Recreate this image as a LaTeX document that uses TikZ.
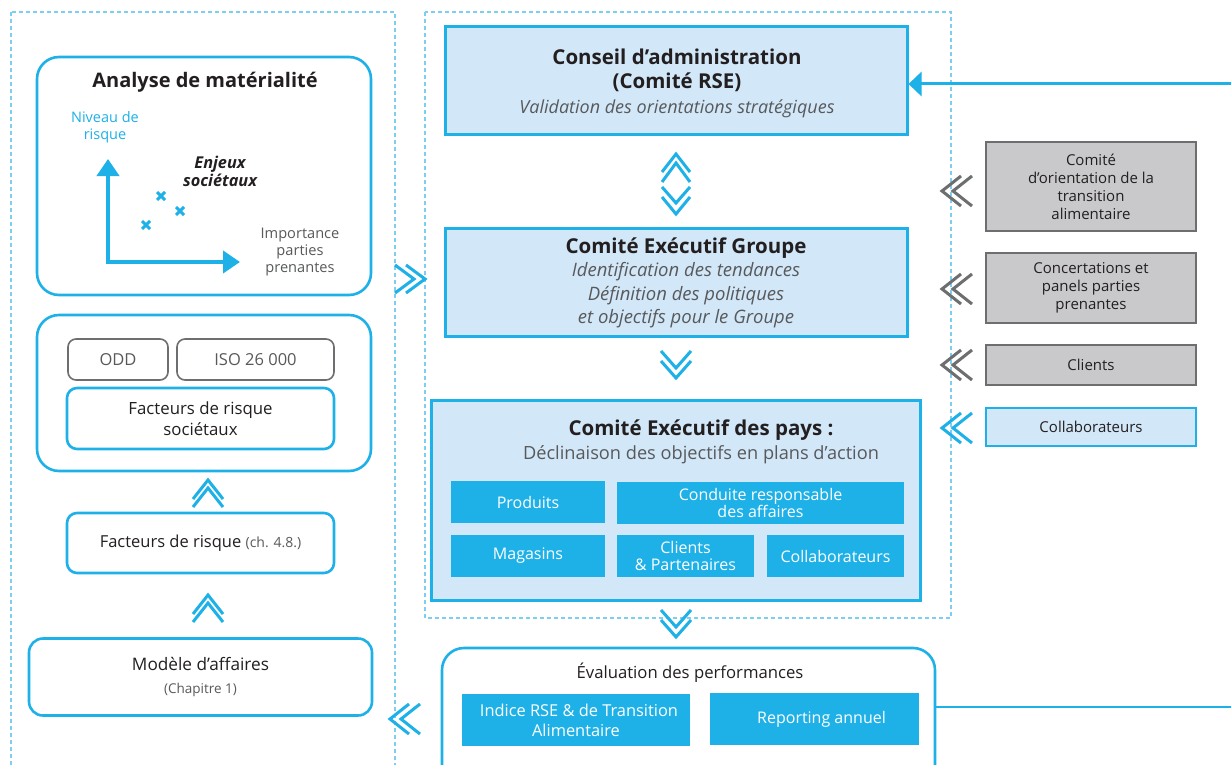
\documentclass[tikz,border=0pt]{standalone}
\usepackage{fontspec}
\setmainfont{Open Sans}
\usetikzlibrary{arrows.meta}
\definecolor{cblue}{HTML}{1EB1E8}
\definecolor{lblue}{HTML}{D2E7F8}
\definecolor{gfill}{HTML}{C9C9CB}
\definecolor{gline}{HTML}{6D6E70}
\definecolor{dtext}{HTML}{231F20}
\definecolor{mtext}{HTML}{58595B}
\definecolor{dashc}{HTML}{7FCDEF}
\tikzset{
 bigr/.style={draw=cblue, line width=2.6pt, rounded corners=22pt, inner sep=0pt},
 smr/.style={draw=cblue, line width=2.6pt, rounded corners=10pt, inner sep=0pt, align=center, text=dtext},
 grr/.style={draw=gline, line width=1.6pt, rounded corners=8pt, inner sep=0pt, align=center, text=mtext, font=\fontsize{16.5}{19}\selectfont},
 sqb/.style={draw=cblue, fill=lblue, line width=3pt, inner sep=0pt, align=center, text=dtext},
 fb/.style={fill=cblue, inner sep=0pt, align=center, text=white, font=\fontsize{16}{16.5}\selectfont},
 gb/.style={draw=gline, fill=gfill, line width=1.8pt, inner sep=0pt, align=center, text=dtext, font=\fontsize{15}{18}\selectfont, minimum width=210pt},
 dsh/.style={draw=dashc, line width=1.4pt, dash pattern=on 4pt off 3pt},
 txt/.style={inner sep=0pt, align=center},
 pics/chevL/.style={code={\draw[line width=3pt, miter limit=10] (19,-15)--(0,0)--(19,15); \draw[line width=3pt, miter limit=10] (30,-15)--(11,0)--(30,15);}},
 pics/chevR/.style={code={\draw[line width=3pt, miter limit=10] (-19,-14)--(0,0)--(-19,14); \draw[line width=3pt, miter limit=10] (-30,-14)--(-11,0)--(-30,14);}},
 pics/chevD/.style={code={\draw[line width=3pt, miter limit=10] (-15,0)--(0,17)--(15,0); \draw[line width=3pt, miter limit=10] (-15,10)--(0,27)--(15,10);}},
 pics/chevU/.style={code={\draw[line width=3pt, miter limit=10] (-15,0)--(0,-19)--(15,0); \draw[line width=3pt, miter limit=10] (-15,-8)--(0,-27)--(15,-8);}},
}
\begin{document}
\begin{tikzpicture}[x=1pt,y=-1pt]
\useasboundingbox (0,0) rectangle (1231,765);
\fill[white] (0,0) rectangle (1231,765);
\clip (0,0) rectangle (1231,765);

% dashed containers
\draw[dsh] (11,12) rectangle (395,775);
\draw[dsh] (425,12) rectangle (951,618);

% ---------- left column ----------
\node[bigr, minimum width=334pt, minimum height=238pt] (mat) at (204,176) {};
\node[txt, text=dtext, font=\bfseries\fontsize{20}{23}\selectfont] (matt) at (205,82) {Analyse de matérialité};
\node[txt, text=cblue, font=\fontsize{14.5}{17}\selectfont] (niv) at (105,127) {Niveau de\\risque};
\node[txt, text=dtext, font=\bfseries\itshape\fontsize{16.3}{18}\selectfont] (enj) at (220,171) {Enjeux\\sociétaux};
\node[txt, text=mtext, font=\fontsize{14.6}{17}\selectfont] (imp) at (300,252) {Importance\\parties\\prenantes};
\coordinate (ytip) at (108,159);
\coordinate (xtip) at (240,262);
\draw[cblue, line width=4pt, {Triangle[width=22pt,length=17pt]}-{Triangle[width=22pt,length=17pt]}] (ytip) |- (xtip);
\foreach \cx/\cy in {161/196,180/211,146/225}{
  \draw[cblue, line width=3pt] (\cx-4,\cy-4) -- (\cx+4,\cy+4) (\cx-4,\cy+4) -- (\cx+4,\cy-4);
}

\node[bigr, minimum width=334pt, minimum height=156pt] (soc) at (204,393) {};
\node[grr, minimum width=100pt, minimum height=41pt] (odd) at (118,359.5) {ODD};
\node[grr, minimum width=157pt, minimum height=41pt] (iso) at (255.5,359.5) {ISO 26 000};
\node[smr, minimum width=267pt, minimum height=61pt, font=\fontsize{16.8}{21.5}\selectfont] (frs) at (200.5,418.5) {Facteurs de risque\\sociétaux};
\node[smr, minimum width=267pt, minimum height=60pt, font=\fontsize{16.5}{19}\selectfont] (fr) at (200.5,543) {Facteurs de risque {\color{mtext}\fontsize{14}{15}\selectfont (ch. 4.8.)}};
\node[smr, rounded corners=14pt, minimum width=343pt, minimum height=77pt, font=\fontsize{17.2}{23}\selectfont] (mod) at (200.5,677) {Modèle d’affaires\\{\color{mtext}\fontsize{13.5}{14}\selectfont (Chapitre 1)}};

\pic[cblue] at (208,507) {chevU};
\pic[cblue] at (208,622) {chevU};
\pic[cblue] at (425,279) {chevR};
\pic[cblue] at (390,719) {chevL};

% ---------- centre column ----------
\node[sqb, minimum width=462pt, minimum height=108pt] (ca) at (676,81) {};
\node[txt, text=dtext, font=\bfseries\fontsize{20.5}{24.5}\selectfont] (cat) at (677,83) {Conseil d’administration\\(Comité RSE)\\{\color{mtext}\mdseries\itshape\fontsize{18}{24.5}\selectfont Validation des orientations stratégiques}};
\node[sqb, minimum width=462pt, minimum height=108pt] (ceg) at (676,282) {};
\node[txt, text=dtext, font=\fontsize{18.5}{23.3}\selectfont] (cegt) at (686,283) {{\bfseries\fontsize{20.5}{23}\selectfont Comité Exécutif Groupe}\\{\color{mtext}\itshape Identification des tendances}\\{\color{mtext}\itshape Définition des politiques}\\{\color{mtext}\itshape et objectifs pour le Groupe}};
\node[sqb, minimum width=489pt, minimum height=200pt] (cep) at (675.5,500.5) {};
\node[txt, text=dtext, font=\fontsize{18.2}{24}\selectfont] (cept) at (701,442) {{\bfseries\fontsize{20.5}{24}\selectfont Comité Exécutif des pays :}\\{\color{mtext}Déclinaison des objectifs en plans d’action}};
\node[fb, minimum width=154pt, minimum height=42pt] (prod) at (528,502) {Produits};
\node[fb, minimum width=287pt, minimum height=42pt] (crd) at (760.5,503) {Conduite responsable\\des affaires};
\node[fb, minimum width=154pt, minimum height=42pt] (mag) at (528,556) {Magasins};
\node[fb, minimum width=137pt, minimum height=42pt] (cli) at (685.5,556) {Clients\\\& Partenaires};
\node[fb, minimum width=137pt, minimum height=42pt] (col) at (835.5,556) {Collaborateurs};

% up-down chevrons between boards
\draw[cblue, line width=3pt, miter limit=10] (662,172)--(676,154)--(690,172) (662,182)--(676,163)--(690,182);
\draw[cblue, line width=3pt, miter limit=10] (662,187)--(676,203)--(690,187) (662,197)--(676,214)--(690,197);
\pic[cblue] at (676,351) {chevD};
\pic[cblue] at (676,610) {chevD};

\node[draw=cblue, line width=2.6pt, rounded corners=22pt, inner sep=0pt, minimum width=493pt, minimum height=140pt] (eval) at (688.5,718) {};
\node[txt, text=dtext, font=\fontsize{16.7}{19}\selectfont] (evalt) at (690,673) {Évaluation des performances};
\node[fb, minimum width=228pt, minimum height=52pt, font=\fontsize{16.4}{20}\selectfont] (ind) at (576,720) {\hspace*{6pt}Indice RSE \& de Transition\\Alimentaire};
\node[fb, minimum width=209pt, minimum height=52pt] (rep) at (814.5,719) {\hspace*{14pt}Reporting annuel};

% feedback line
\coordinate (rout) at (1231,707);
\coordinate (rin) at (1231,84);
\draw[cblue, line width=2.6pt] (rout) -- (rout -| eval.east);
\draw[cblue, line width=3pt, -{Triangle[width=24pt,length=13pt]}] (rin) -- (rin -| ca.east);

% ---------- right column ----------
\node[gb, minimum height=89pt] (r1) at (1091,186.5) {Comité\\d’orientation de la\\transition\\alimentaire};
\node[gb, minimum height=70pt] (r2) at (1091,288) {Concertations et\\panels parties\\prenantes};
\node[gb, minimum height=40pt] (r3) at (1091,365) {Clients};
\node[gb, draw=cblue, fill=lblue, line width=2.6pt, minimum height=38pt] (r4) at (1091,427) {Collaborateurs};
\pic[gline] at (942,191) {chevL};
\pic[gline] at (942,289) {chevL};
\pic[gline] at (942,365) {chevL};
\pic[cblue] at (942,428) {chevL};
\end{tikzpicture}
\end{document}
